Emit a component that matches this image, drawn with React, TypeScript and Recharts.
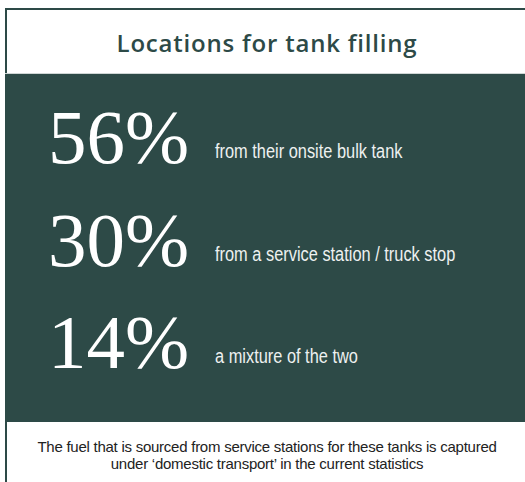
import { Bar, BarChart, Customized, XAxis, YAxis } from 'recharts';

const GREEN = '#2d4a47';

const title = 'Locations for tank filling';
const shares = [56, 30, 14];
const descriptions = [
  'from their onsite bulk tank',
  'from a service station / truck stop',
  'a mixture of the two',
];
const footnote = [
  'The fuel that is sourced from service stations for these tanks is captured',
  'under \u2018domestic transport\u2019 in the current statistics',
];

const rows = shares.map((v, i) => ({ pct: `${v}%`, value: v, desc: descriptions[i] }));

function RowTick({ y, payload, index }: any) {
  const row = rows[index] ?? rows.find((r) => r.pct === payload.value);
  return <g>
    <text x={48} y={y + 23} fill="#fff" fontFamily="'Liberation Serif', serif" fontSize={77}>
      {payload.value}
    </text>
    {/* condensed face isn't installed, so squeeze a regular sans */}
    <text transform={`translate(215, ${y + 18}) scale(0.78, 1)`} fill="#eef1f0" fontFamily="'Liberation Sans', sans-serif" fontSize={21}>
      {row?.desc}
    </text>
  </g>;
}

function Texts() {
  return <g>
    <text x={267} y={52} textAnchor="middle" fill={GREEN} fontFamily="'Open Sans', sans-serif" fontWeight={600} fontSize={24} letterSpacing={0.8}>
      {title}
    </text>
    {footnote.map((line, i) => (
      <text key={i} x={267} y={452 + i * 17} textAnchor="middle" fill="#222" fontFamily="'Liberation Sans', sans-serif" fontSize={15} letterSpacing={-0.25}>
        {line}
      </text>
    ))}
  </g>;
}

export default function App() {
  return <div style={{ position: 'absolute', left: 0, top: 0, width: 525, height: 482, overflow: 'hidden', background: '#fff' }}>
    <div style={{ position: 'absolute', left: 5, top: 8, width: 540, height: 500, border: `2px solid ${GREEN}`, boxSizing: 'border-box', background: '#fff' }} />
    <div style={{ position: 'absolute', left: 5, top: 73, width: 540, height: 1, background: '#cfd6d5' }} />
    <div style={{ position: 'absolute', left: 5, top: 74, width: 540, height: 348, background: GREEN }} />
    <div style={{ position: 'absolute', left: 0, top: 0 }}>
      <BarChart width={525} height={482} data={rows} layout="vertical" margin={{ top: 89, right: 0, bottom: 86, left: 0 }}>
        <XAxis type="number" hide domain={[0, 100]} />
        <YAxis type="category" dataKey="pct" width={1} axisLine={false} tickLine={false} interval={0} tick={<RowTick />} />
        <Bar dataKey="value" fill="transparent" isAnimationActive={false} />
        <Customized component={<Texts />} />
      </BarChart>
    </div>
  </div>;
}
